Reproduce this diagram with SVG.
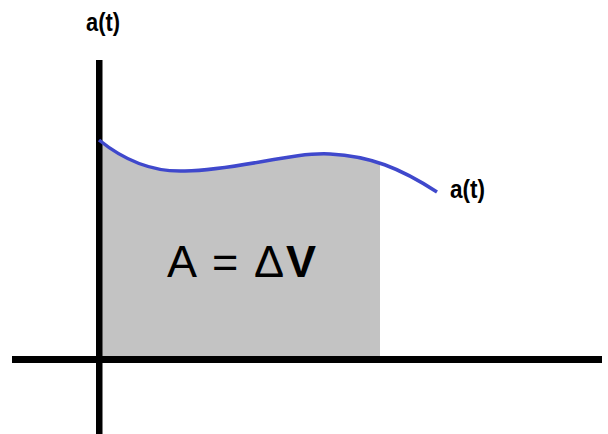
<svg xmlns="http://www.w3.org/2000/svg" width="608" height="434" viewBox="0 0 608 434">
<style>
.lbl{font-family:"Liberation Sans",Arial,sans-serif;font-weight:bold;fill:#000}
.big{font-family:"Liberation Sans",Arial,sans-serif;font-size:45px;fill:#000}
.axis{fill:#000}
</style>
<defs>
<clipPath id="areaClip"><rect x="99" y="100" width="281" height="260"/></clipPath>
</defs>
<rect width="608" height="434" fill="#fff"/>
<g id="area">
<path clip-path="url(#areaClip)" fill="#c3c3c3" d="M99,140 C130,165 160,172 185,171 C240,170 290,152 330,154 C370,156 400,168 437,192 L437,358 L99,358 Z"/>
</g>
<g id="axes">
<rect class="axis" x="96" y="60" width="6.5" height="374"/>
<rect class="axis" x="12" y="356" width="590" height="7"/>
</g>
<g id="curve">
<path d="M99,140 C130,165 160,172 185,171 C240,170 290,152 330,154 C370,156 400,168 437,192" fill="none" stroke="#3f48cc" stroke-width="3.5"/>
</g>
<g id="labels">
<text class="lbl" x="86" y="31" font-size="25" textLength="34" lengthAdjust="spacingAndGlyphs">a(t)</text>
<text class="lbl" x="450" y="198" font-size="25" textLength="35" lengthAdjust="spacingAndGlyphs">a(t)</text>
<text class="big" x="167" y="277">A</text>
<text class="big" x="212" y="277">=</text>
<text class="big" x="254" y="277">Δ</text>
<text class="big" x="286" y="277" font-weight="bold">V</text>
</g>
</svg>
